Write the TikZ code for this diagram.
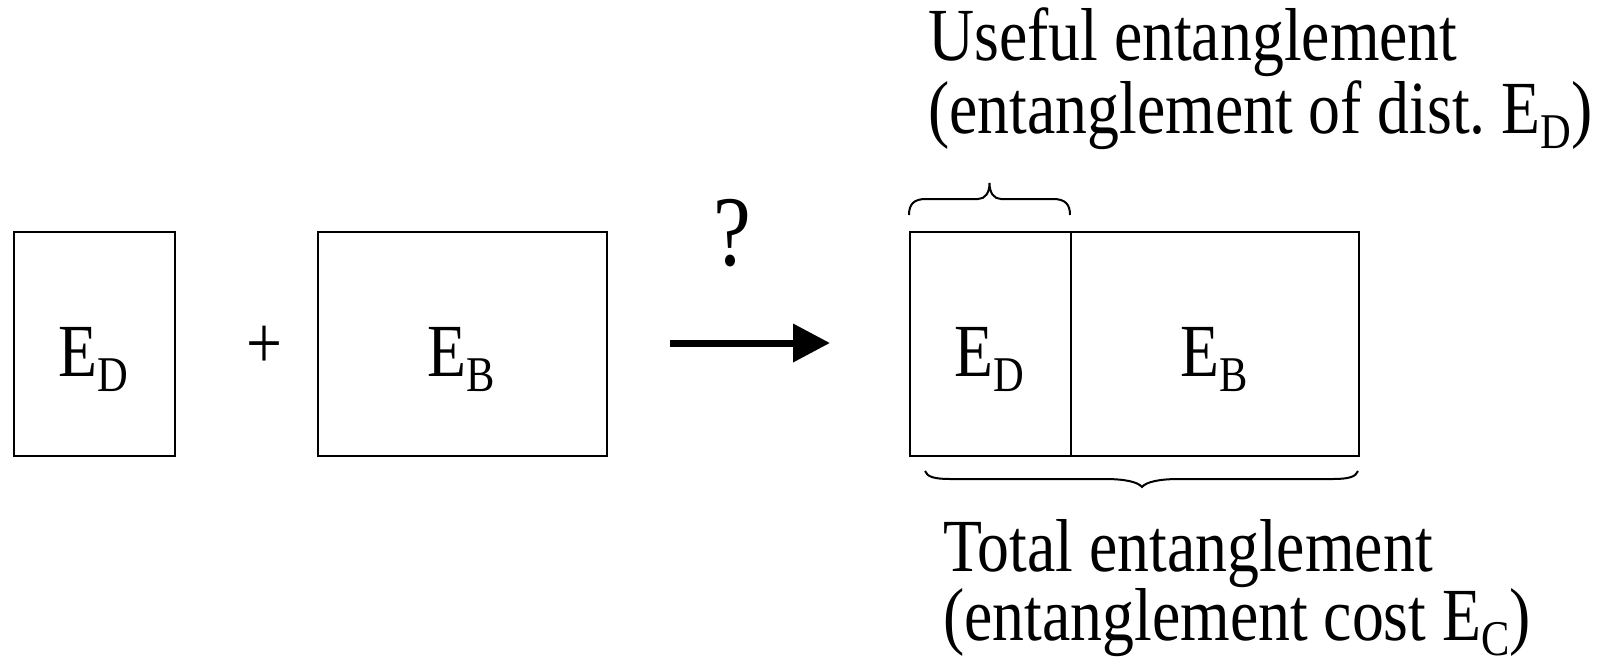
\documentclass[tikz,border=0pt]{standalone}
\usepackage{fontspec}
\setmainfont[FakeStretch=0.85]{Liberation Serif}
\usetikzlibrary{arrows.meta}
\newcommand\lsub[1]{\raisebox{-0.2em}{\fontsize{50}{50}\selectfont #1}}
\begin{document}
\begin{tikzpicture}[x=1pt,y=-1pt,
  box/.style={draw, line width=2pt, inner sep=0pt, anchor=north west},
  lab/.style={inner sep=0pt, anchor=base, font=\fontsize{75}{86}\selectfont},
  txt/.style={inner sep=0pt, anchor=base west, font=\fontsize{75}{86}\selectfont},
  brc/.style={line width=2pt},
  bigarrow/.style={line width=7pt, -{Triangle[length=37pt,width=37pt]}}
]
\useasboundingbox (0,0) rectangle (1604,662);
% left boxes
\node[box, minimum width=161pt, minimum height=224pt] (b1) at (13,231) {};
\node[box, minimum width=289pt, minimum height=224pt] (b2) at (317,231) {};
\node[lab] (l1) at (93.5,376) {E\lsub{D}};
\node[lab] (l2) at (461.5,376) {E\lsub{B}};
\node[inner sep=0pt, font=\fontsize{75}{86}\selectfont] (plus) at (264,347) {+};
% arrow
\node[inner sep=0pt, font=\fontsize{100}{110}\selectfont] (q) at (732,233) {?};
\coordinate (a1) at (670,343);
\coordinate (a2) at (830,343);
\draw[bigarrow] (a1) -- (a2);
% right boxes
\node[box, minimum width=161pt, minimum height=224pt] (rd) at (909,231) {};
\node[box, minimum width=288pt, minimum height=224pt] (rb) at (1070,231) {};
\node[lab] (l3) at (989.5,376) {E\lsub{D}};
\node[lab] (l4) at (1214,376) {E\lsub{B}};
% top brace
\draw[brc] (909,215) .. controls (909,204) and (914,199) .. (926,199) -- (978,199)
  .. controls (985,199) and (989.5,193) .. (989.5,183)
  .. controls (989.5,193) and (994,199) .. (1001,199) -- (1053,199)
  .. controls (1065,199) and (1070,204) .. (1070,215);
% bottom brace
\draw[brc] (925,471) .. controls (927,477) and (935,479) .. (950,479) -- (1105,479)
  .. controls (1125,479) and (1138,482) .. (1142,487)
  .. controls (1146,482) and (1159,479) .. (1179,479) -- (1333,479)
  .. controls (1348,479) and (1356,477) .. (1358,471);
% texts
\node[txt] (t1) at (928,60) {Useful entanglement};
\node[txt] (t2) at (928,133) {(entanglement of dist.\ E\lsub{D})};
\node[txt] (t3) at (943,571) {Total entanglement};
\node[txt] (t4) at (943,640) {(entanglement cost E\lsub{C})};
\end{tikzpicture}
\end{document}
